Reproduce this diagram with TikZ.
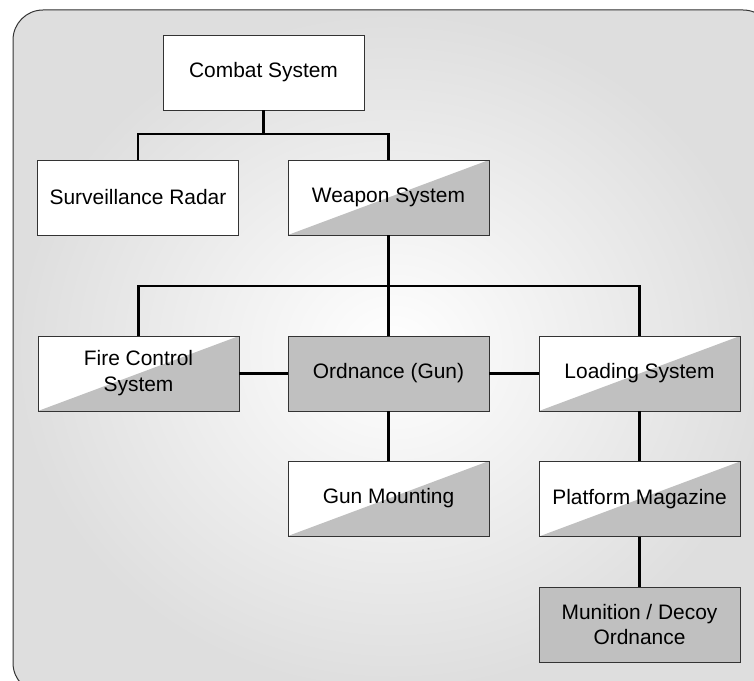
\documentclass[tikz,border=0pt]{standalone}
\usepackage{fontspec}
\setmainfont{Liberation Sans}
\usepackage{tikz}
\usetikzlibrary{calc}
\definecolor{boxgray}{HTML}{C0C0C0}
\definecolor{edgegray}{HTML}{333333}
\tikzset{
  unit/.style={draw=edgegray,line width=0.9bp,fill=white,minimum width=201bp,minimum height=75bp,inner sep=0pt,align=center,font=\fontsize{21}{26}\selectfont},
  halfunit/.style={unit,path picture={\fill[boxgray] (path picture bounding box.south west) -- (path picture bounding box.north east) -- (path picture bounding box.south east) -- cycle;}},
  fullunit/.style={unit,fill=boxgray},
  link/.style={black,line width=2.3bp},
}
\begin{document}
\begin{tikzpicture}[line join=miter]
%%
\useasboundingbox (0bp,0bp) rectangle (754bp,681bp);
\shade[inner color=white,outer color=black!13,draw=edgegray,line width=1bp,rounded corners=30bp] (13bp,671bp) rectangle (773bp,-12bp);
%
\node (node_combat) at (263.5bp,608.5bp) [unit] {Combat System};
  \node (node_radar) at (138bp,483.5bp) [unit] {Surveillance Radar};
  \node (node_weapon) at (388.5bp,483.5bp) [halfunit] {Weapon System};
  \node (node_fire) at (138.5bp,307.5bp) [halfunit] {Fire Control\\System};
  \node (node_gun) at (388.5bp,307.5bp) [fullunit] {Ordnance (Gun)};
  \node (node_loading) at (639.5bp,307.5bp) [halfunit] {Loading System};
  \node (node_mounting) at (388.5bp,182.5bp) [halfunit] {Gun Mounting};
  \node (node_magazine) at (639.5bp,182bp) [halfunit] {Platform Magazine};
  \node (node_munition) at (639.5bp,56.5bp) [fullunit] {Munition / Decoy\\Ordnance};
  \coordinate (split_0) at (263.5bp,547bp);
  \coordinate (split_1) at (388.5bp,395bp);
  \draw [link] (node_combat) -- (split_0);
  \draw [link] (split_0) -| (node_radar);
  \draw [link] (split_0) -| (node_weapon);
  \draw [link] (node_weapon) -- (split_1);
  \draw [link] (split_1) -| (node_fire);
  \draw [link] (split_1) -- (node_gun);
  \draw [link] (split_1) -| (node_loading);
  \draw [link] (node_fire) -- (node_gun);
  \draw [link] (node_gun) -- (node_loading);
  \draw [link] (node_gun) -- (node_mounting);
  \draw [link] (node_loading) -- (node_magazine);
  \draw [link] (node_magazine) -- (node_munition);
%
\end{tikzpicture}
\end{document}
